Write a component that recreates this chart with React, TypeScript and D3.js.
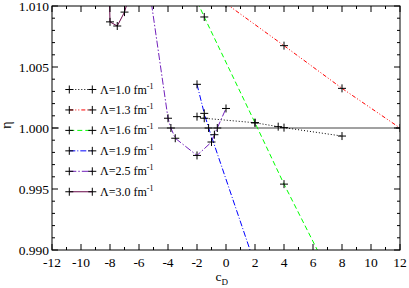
import React, { useRef, useEffect } from 'react';
import * as d3 from 'd3';

// cutoff values for the legend
const lambdas = ['1.0', '1.3', '1.6', '1.9', '2.5', '3.0'];
const colors = ['#000000', '#ff0000', '#00ff00', '#0000ff', '#7221bc', '#670748'];
const dashes = ['1,2', '4,2,1,2,1,2', '5,3', '6,2,1,2', '7,2,1.5,2', null];

// [cD, eta] per cutoff
const eta10 = [[-2, 1.00093], [-1.5, 1.0008], [2, 1.00043], [3.6, 1.00011], [4, 1.00003], [8, 0.99934]];
const eta13 = [[0, 1.0102], [4, 1.00675], [8, 1.00325], [12, 1.0]];
const eta16 = [[-4, 1.0157], [-1.5, 1.0091], [2, 1.00043], [4, 0.9954], [8, 0.986]];
const eta19 = [[-2, 1.00358], [-1.5, 1.0012], [-1.2, 1.0], [2, 0.9888]];
const eta25 = [[-6, 1.0173], [-4, 1.0008], [-3.8, 1.0], [-3.5, 0.99916], [-2, 0.99775], [-1, 0.99885], [-0.8, 0.99945], [-0.6, 1.0], [0, 1.0016]];
const eta30 = [[-9, 1.06], [-8, 1.0087], [-7.5, 1.00836], [-7, 1.0095], [-6.5, 1.0115]];

const xTicks = [-12, -10, -8, -6, -4, -2, 0, 2, 4, 6, 8, 10, 12];
const yTicks = [0.99, 0.995, 1.0, 1.005, 1.01];

const FONT = "'Liberation Serif', 'Times New Roman', 'DejaVu Serif', serif";

export default function App() {
  const ref = useRef<SVGSVGElement>(null);

  useEffect(() => {
    const series = [eta10, eta13, eta16, eta19, eta25, eta30];
    const margin = { top: 6, right: 9, bottom: 38, left: 52 };
    const W = 409, H = 288;
    const width = W - margin.left - margin.right;
    const height = H - margin.top - margin.bottom;

    const root = d3.select(ref.current);
    root.selectAll('*').remove();
    const svg = root.append('g').attr('transform', `translate(${margin.left},${margin.top})`);

    const x = d3.scaleLinear().domain([-12, 12]).range([0, width]);
    const y = d3.scaleLinear().domain([0.99, 1.01]).range([height, 0]);

    svg.append('defs').append('clipPath').attr('id', 'plotclip')
      .append('rect').attr('width', width).attr('height', height);

    // eta = 1 reference line
    svg.append('line')
      .attr('x1', 0).attr('x2', width)
      .attr('y1', y(1)).attr('y2', y(1))
      .attr('stroke', '#444').attr('stroke-width', 1);

    const plot = svg.append('g').attr('clip-path', 'url(#plotclip)');
    const line = d3.line<number[]>().x(d => x(d[0])).y(d => y(d[1]));

    series.forEach((s, i) => {
      plot.append('path')
        .datum(s)
        .attr('d', line)
        .attr('fill', 'none')
        .attr('stroke', colors[i])
        .attr('stroke-width', 1)
        .attr('stroke-dasharray', dashes[i]);
    });
    series.forEach(s => {
      plot.selectAll(null)
        .data(s)
        .enter()
        .append('path')
        .attr('d', d => `M${x(d[0]) - 4},${y(d[1])}h8M${x(d[0])},${y(d[1]) - 4}v8`)
        .attr('stroke', '#000')
        .attr('stroke-width', 1);
    });

    // frame + ticks on all sides
    const minorX = d3.range(-12, 12.01, 1);
    const minorY = d3.range(0, 21).map(k => 0.99 + k * 0.001);
    const ax = svg.append('g').attr('stroke', '#000').attr('stroke-width', 1);
    minorX.forEach(v => {
      const len = Math.abs(v % 2) < 1e-9 ? 6 : 3;
      ax.append('line').attr('x1', x(v)).attr('x2', x(v)).attr('y1', height).attr('y2', height - len);
      ax.append('line').attr('x1', x(v)).attr('x2', x(v)).attr('y1', 0).attr('y2', len);
    });
    minorY.forEach((v, k) => {
      const len = k % 5 === 0 ? 6 : 3;
      ax.append('line').attr('x1', 0).attr('x2', len).attr('y1', y(v)).attr('y2', y(v));
      ax.append('line').attr('x1', width).attr('x2', width - len).attr('y1', y(v)).attr('y2', y(v));
    });
    svg.append('rect')
      .attr('width', width).attr('height', height)
      .attr('fill', 'none').attr('stroke', '#000').attr('stroke-width', 1);

    svg.selectAll('.xl').data(xTicks).enter().append('text')
      .attr('x', d => x(d)).attr('y', height + 17)
      .attr('text-anchor', 'middle')
      .style('font-family', FONT).style('font-size', '13.5px')
      .text(d => String(d));
    svg.selectAll('.yl').data(yTicks).enter().append('text')
      .attr('x', -3).attr('y', d => y(d) + 4.5)
      .attr('text-anchor', 'end')
      .style('font-family', FONT).style('font-size', '13.5px')
      .text(d => d3.format('.3f')(d));

    // axis titles
    const xt = svg.append('text')
      .attr('x', x(-0.3)).attr('y', height + 31)
      .attr('text-anchor', 'middle')
      .style('font-family', FONT).style('font-size', '13.5px');
    xt.append('tspan').text('c');
    xt.append('tspan').attr('dy', 4).style('font-size', '9px').text('D');
    svg.append('text')
      .attr('transform', `translate(${-41},${y(1) - 3}) rotate(-90)`)
      .attr('text-anchor', 'middle')
      .style('font-family', FONT).style('font-size', '14px')
      .text('η');

    // legend
    const lg = svg.append('g');
    lg.append('rect').attr('x', 7).attr('y', 72).attr('width', 99).attr('height', 126).attr('fill', '#fff');
    lambdas.forEach((l, i) => {
      const ly = 83.5 + i * 20.45;
      const x1 = 17.3, x2 = 40.3;
      lg.append('line')
        .attr('x1', x1).attr('x2', x2).attr('y1', ly).attr('y2', ly)
        .attr('stroke', colors[i]).attr('stroke-width', 1)
        .attr('stroke-dasharray', dashes[i]);
      [x1, x2].forEach(cx => {
        lg.append('path')
          .attr('d', `M${cx - 4},${ly}h8M${cx},${ly - 4}v8`)
          .attr('stroke', '#000').attr('stroke-width', 1);
      });
      const t = lg.append('text')
        .attr('x', 48).attr('y', ly + 4)
        .style('font-family', FONT).style('font-size', '12px');
      t.append('tspan').text(`Λ=${l} fm`);
      t.append('tspan').attr('dy', -5).style('font-size', '8px').text('-1');
    });
  }, []);

  return (
    <svg
      ref={ref}
      width={409}
      height={288}
      style={{ position: 'absolute', left: 0, top: 0, background: '#fff' }}
    />
  );
}
